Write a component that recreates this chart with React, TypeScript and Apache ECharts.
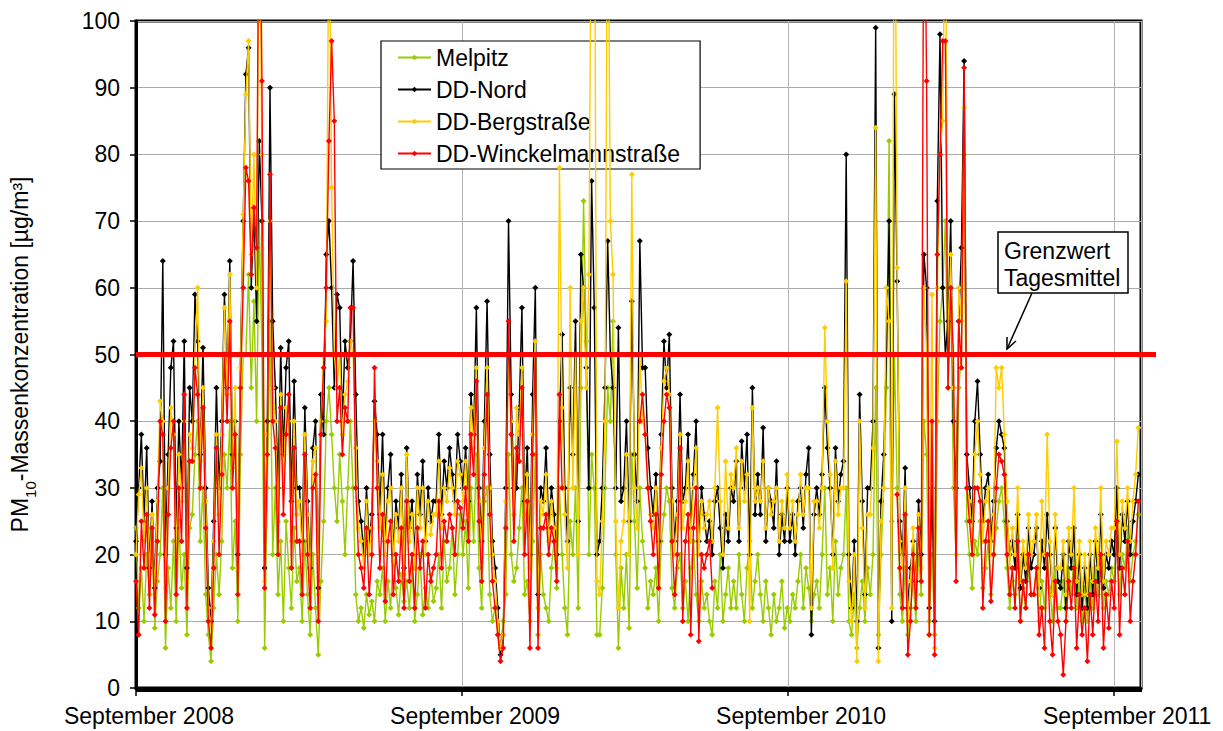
import React, { useEffect, useRef } from "react";
import * as echarts from "echarts";

const _ = null;
const STEP = 3; // days between samples, first sample 1 Sep 2008
const DAYS = 1125; // 1 Sep 2008 .. 30 Sep 2011
const SERIES_NAMES = ["Melpitz", "DD-Nord", "DD-Bergstraße", "DD-Winckelmannstraße"];
const COLORS = ["#99cc00", "#000000", "#ffcc00", "#ff0000"];
const X_LABELS: Record<number, string> = {
  0: "September 2008",
  365: "September 2009",
  730: "September 2010",
  1095: "September 2011",
};
const Y_MIN = 0;
const Y_MAX = 100;
const Y_STEP = 10;
const LIMIT = 50;

const melpitz = [
  24, 12, 18, 10, 20, 14, 22, 9, 16, 20,
  30, 6, 18, 12, 22, 10, 25, 15, 20, 8, 24,
  26, 35, 40, 22, 30, 14, 8, 4, 12, 20,
  14, 22, 35, 30, 40, 18, 25, 10, 35, 50,
  50, 62, 45, 58, 40, 70, 50, 6, 30, 55,
  20, 30, 14, 22, 10, 25, 18, 12, 24, 16,
  18, 10, 22, 14, 8, 20, 12, 5, 16, 25,
  40, 45, 38, 30, 25, 35, 28, 20, 30, 40,
  30, 14, 10, 12, 9, 14, 11, 13, 10, 16,
  14, 18, 10, 16, 12, 20, 15, 11, 17, 13,
  16, 12, 18, 10, 14, 20, 11, 15, 12, 17, 13,
  15, 20, 12, 22, 16, 18, 24, 14, 20, 26,
  20, 25, 15, 30, 22, 35, 18, 12, 28, 30,
  14, 10, 12, 8, 6, 10, 14, 35, 20, 16,
  18, 24, 30, 14, 16, 10, 22, 35, 8, 20,
  14, 12, 10, 18, 22, 15, 30, 20, 12, 8, 25,
  20, 30, 12, 45, 73, 52, 20, 35, 30, 8,
  8, 15, 30, 45, 40, 55, 20, 6, 18,
  12, 20, 9, 35, 25, 15, 30, 22, 18, 12, 16,
  14, 18, 10, 22, 26, 30, 28, 15, 12, 18,
  20, 12, 16, 10, 18, 22, 14, 10, 16, 12,
  14, 10, 8, 16, 12, 20, 10, 14, 18, 12,
  16, 12, 20, 14, 10, 18, 22, 12, 16, 20,
  14, 10, 16, 12, 8, 14, 10, 12, 16, 9, 12,
  10, 14, 12, 16, 20, 12, 18, 15, 10, 14,
  16, 12, 20, 30, 14, 18, 10, 22, 14, 18,
  20, 30, 10, 8, 14, 6, 12, 16, 10, 18,
  14, 20, 45, 8, 20, 30, 45, 82, 25, 50,
  30, 14, 10, 18, 8, 12, 16, 10, 20, 14, 40,
  35, 10, 20, 8, 40, 55, 60, 70, 45,
  60, 30, 20, 45, 50, 80, 25, 20, 15, 22,
  20, 25, 15, 18, 22, 14, 20, 24, 28, 30,
  25, 18, 12, 16, 14, 20, 10, 15, 12, 18, 14,
  14, 18, 10, 16, 12, 20, 15, 10, 18, 12,
  12, 16, 10, 18, 14, 20, 12, 16, 10, 15,
  10, 16, 12, 18, 14, 20, 12, 16, 14, 18,
  16, 22, 14, 20, 18, 24, 16, 20, 22, 26,
];

const ddNord = [
  22, 30, 38, 25, 36, 18, 28, 15, 30, 34,
  64, 20, 35, 48, 52, 24, 40, 30, 52, 18, 45,
  40, 59, 52, 35, 51, 30, 15, 10, 25, 45,
  30, 40, 59, 45, 64, 35, 40, 20, 50, 70,
  92, 96, 60, 72, 55, 82, 70, 18, 40, 90,
  55, 45, 30, 51, 35, 48, 52, 28, 46, 30,
  30, 22, 42, 28, 18, 36, 40, 15, 44, 38,
  65, 70, 60, 45, 59, 57, 40, 52, 48, 52,
  64, 44, 28, 25, 20, 30, 22, 26, 43, 38,
  26, 38, 22, 30, 35, 20, 28, 24, 32, 18,
  36, 24, 28, 20, 32, 26, 34, 22, 30, 25, 28,
  28, 38, 26, 34, 30, 36, 32, 28, 38, 34,
  30, 36, 28, 44, 38, 57, 30, 22, 40, 58,
  35, 22, 18, 12, 5, 8, 30, 70, 44, 30,
  30, 42, 57, 28, 36, 20, 44, 60, 14, 30,
  28, 36, 24, 30, 26, 20, 40, 53, 30, 22, 45,
  35, 55, 25, 65, 60, 48, 30, 76, 57, 20,
  22, 30, 45, 67, 50, 45, 30, 54, 28,
  30, 40, 25, 58, 35, 28, 67, 48, 48, 36, 30,
  26, 32, 22, 38, 52, 45, 53, 30, 22, 28,
  44, 28, 30, 38, 24, 32, 40, 22, 30, 26,
  22, 25, 20, 28, 30, 24, 18, 26, 22, 30,
  28, 34, 22, 37, 30, 38, 20, 45, 26, 32,
  26, 39, 22, 30, 28, 24, 34, 20, 26, 22, 30,
  22, 26, 20, 28, 30, 24, 32, 36, 8, 26,
  30, 26, 32, 45, 36, 30, 20, 36, 28, 32,
  34, 80, 20, 12, 22, 10, 44, 28, 14, 30,
  30, 40, 99, 6, 28, 35, 50, 70, 10, 89,
  61, 25, 20, 33, 12, 18, 22, 16, 28, 20, 65,
  60, 12, 30, 10, 73, 98, 60, 50, 55,
  70, 40, 30, 55, 66, 94, 35, 30, 25, 40,
  46, 35, 25, 30, 32, 22, 28, 36, 40, 38,
  36, 25, 20, 22, 18, 26, 15, 20, 16, 24, 18,
  20, 24, 15, 22, 18, 26, 20, 14, 24, 16,
  15, 20, 12, 22, 18, 24, 14, 20, 12, 18,
  12, 20, 14, 22, 16, 26, 15, 20, 18, 22,
  20, 30, 18, 26, 22, 28, 20, 25, 28, 32,
];

const ddBerg = [
  20, 29, 33, 22, 30, 17, 26, 14, 28, 43,
  40, 15, 30, 42, 38, 20, 35, 28, 40, 16, 38,
  36, 50, 60, 34, 45, 28, 12, 9, 22, 38,
  26, 38, 57, 44, 62, 33, 45, 18, 48, 71,
  89, 97, 65, 80, 60, 120, 80, 16, 38, 70,
  45, 40, 25, 44, 30, 42, 40, 22, 40, 26,
  28, 20, 38, 26, 16, 34, 36, 14, 40, 50,
  55, 120, 75, 50, 45, 50, 38, 44, 46, 52,
  50, 36, 24, 22, 18, 28, 20, 24, 40, 34,
  24, 32, 20, 28, 30, 19, 26, 22, 30, 17,
  35, 22, 26, 18, 30, 24, 30, 20, 28, 23, 26,
  26, 34, 24, 30, 28, 33, 30, 26, 34, 32,
  28, 34, 26, 42, 36, 48, 28, 20, 36, 48,
  30, 20, 16, 10, 6, 8, 28, 50, 40, 26,
  42, 38, 48, 26, 32, 18, 38, 52, 12, 28,
  26, 32, 22, 28, 24, 18, 78, 42, 26, 18, 60,
  30, 50, 20, 55, 60, 45, 62, 130, 140, 16,
  14, 25, 40, 130, 70, 62, 25, 12, 22,
  25, 35, 20, 77, 30, 24, 50, 40, 38, 30, 26,
  24, 30, 20, 36, 46, 48, 44, 28, 20, 26,
  38, 24, 28, 34, 22, 30, 36, 20, 28, 24,
  26, 28, 22, 30, 42, 28, 20, 34, 24, 32,
  30, 36, 24, 34, 28, 32, 10, 42, 28, 30,
  28, 34, 24, 30, 26, 28, 30, 22, 28, 24, 32,
  24, 28, 22, 26, 32, 26, 30, 30, 12, 28,
  28, 24, 30, 54, 40, 32, 18, 34, 26, 30,
  30, 61, 16, 10, 20, 4, 40, 24, 12, 26,
  26, 36, 84, 4, 25, 30, 60, 55, 12, 140,
  63, 22, 18, 30, 10, 16, 24, 14, 26, 18, 60,
  50, 8, 59, 6, 60, 80, 85, 120, 50,
  65, 45, 20, 60, 55, 87, 30, 28, 22, 35,
  40, 32, 22, 28, 30, 20, 26, 48, 45, 48,
  38, 28, 18, 24, 20, 30, 16, 22, 18, 26, 20,
  22, 26, 14, 28, 20, 38, 22, 14, 26, 18,
  18, 22, 14, 24, 20, 30, 16, 22, 14, 20,
  14, 22, 16, 24, 18, 30, 16, 22, 20, 24,
  24, 37, 20, 28, 24, 30, 22, 28, 32, 39,
];

const ddWinckel = [
  16, 8, 25, 18, 26, 12, 24, 11, 22, 40,
  38, 10, 26, 36, 40, 14, 30, 22, 44, 12, 34,
  34, 48, 44, 30, 42, 24, 10, 6, 18, 36,
  20, 32, 50, 40, 55, 30, 38, 14, 45, 60,
  78, 76, 62, 72, 66, 130, 91, 15, 35, 77,
  40, 36, 20, 42, 26, 38, 44, 18, 36, 22,
  22, 14, 35, 20, 12, 30, 32, 10, 38, 48,
  60, 82, 97, 85, 40, 45, 35, 42, 40, 57,
  57, 30, 20, 18, 15, 24, 14, 20, 48, 30,
  18, 26, 13, 22, 25, 14, 20, 16, 24, 12,
  28, 16, 20, 12, 24, 18, 22, 12, 20, 16, 18,
  20, 28, 18, 25, 22, 26, 24, 20, 28, 27,
  24, 30, 22, 38, 32, 46, 25, 16, 32, 44,
  26, 16, 12, 8, 4, 6, 24, 55, 38, 22,
  36, 34, 45, 20, 28, 6, 35, 50, 6, 24,
  24, 26, 20, 24, 22, 16, 44, 30, _, _, _,
  _, _, _, _, _, _, _, _, _, _,
  _, _, _, _, _, _, _, _, _,
  _, _, _, _, _, _, 40, 44, 38, 30, 25,
  20, 26, 15, 32, 40, 44, 42, 22, 14, 20,
  36, 10, 22, 26, 8, 24, 30, 7, 20, 18,
  20, 22, 15, _, _, _, _, _, _, _,
  _, _, _, _, _, _, _, _, _, _,
  _, _, _, _, _, _, _, _, _, _, _,
  _, _, _, _, _, _, _, _, _, _,
  _, _, _, _, _, _, _, _, _, _,
  _, _, _, _, _, _, _, _, _, _,
  _, _, _, _, _, _, _, _, _, _,
  29, 18, 12, 26, 5, 10, 20, 12, 24, 16, 130,
  91, 8, 40, 5, 65, 80, 97, 97, 45,
  60, 50, 16, 55, 48, 93, 30, 25, 20, 30,
  30, 28, 12, 22, 25, 13, 20, 30, 35, 34,
  32, 20, 14, 18, 12, 22, 10, 16, 12, 20, 14,
  14, 18, 8, 12, 6, 20, 10, 5, 16, 10,
  8, 2, 10, 16, 12, 18, 6, 14, 8, 12,
  4, 14, 8, 16, 10, 20, 6, 14, 9, 16,
  12, 25, 8, 18, 14, 22, 10, 16, 20, 28,
];

const SERIES_VALUES = [melpitz, ddNord, ddBerg, ddWinckel];

function toPairs(values: (number | null)[]) {
  return values.map((v, i) => [i * STEP, v]);
}

const FONT = "'Liberation Sans', Arial, sans-serif";

export default function App() {
  const ref = useRef<HTMLDivElement>(null);

  useEffect(() => {
    if (!ref.current) return;
    const chart = echarts.init(ref.current, null, { renderer: "svg" });
    const dayCats = Array.from({ length: DAYS + 1 }, (_v, i) => String(i));

    chart.setOption({
      animation: false,
      textStyle: { fontFamily: FONT },
      grid: {
        left: 135,
        right: 82,
        top: 21,
        bottom: 43,
        show: true,
        borderColor: "#000",
        borderWidth: 3,
        backgroundColor: "transparent",
      },
      legend: {
        orient: "vertical",
        left: 381,
        top: 41,
        itemWidth: 33,
        itemHeight: 7,
        itemGap: 9,
        padding: [5, 20, 4, 16],
        backgroundColor: "#fff",
        borderColor: "#000",
        borderWidth: 1.2,
        textStyle: { fontSize: 23, color: "#000", fontFamily: FONT },
        data: SERIES_NAMES,
        selectedMode: false,
      },
      xAxis: [
        {
          type: "value",
          position: "bottom",
          min: 0,
          max: DAYS,
          interval: 365,
          axisLine: { show: true, lineStyle: { color: "#000", width: 3 } },
          axisTick: { show: true, length: 8, lineStyle: { color: "#000", width: 1.5 } },
          axisLabel: {
            formatter: (v: number) => X_LABELS[v] ?? "",
            fontSize: 23,
            color: "#000",
            margin: 16,
            padding: [0, 0, 0, 26],
            showMaxLabel: false,
            showMinLabel: true,
            fontFamily: FONT,
          },
          splitLine: { show: true, lineStyle: { color: "#b4b4b4", width: 1 } },
        },
        {
          type: "category",
          position: "bottom",
          data: dayCats,
          boundaryGap: false,
          axisLine: { show: false },
          axisTick: { show: true, interval: 0, length: 4, lineStyle: { color: "#000", width: 1 } },
          axisLabel: { show: false },
          splitLine: { show: false },
        },
      ],
      yAxis: {
        type: "value",
        min: Y_MIN,
        max: Y_MAX,
        interval: Y_STEP,
        axisLine: { show: true, lineStyle: { color: "#000", width: 3 } },
        axisTick: { show: true, length: 6, lineStyle: { color: "#000", width: 1.5 } },
        axisLabel: { fontSize: 23, color: "#000", margin: 16, fontFamily: FONT },
        splitLine: { show: true, lineStyle: { color: "#ababab", width: 1 } },
        name: "{a|PM}{s|10}{a|-Massenkonzentration [µg/m³]}",
        nameLocation: "middle",
        nameGap: 98,
        nameTextStyle: {
          rich: {
            a: { fontSize: 23, color: "#000", fontFamily: FONT, lineHeight: 30, verticalAlign: "top" },
            s: { fontSize: 15, color: "#000", fontFamily: FONT, lineHeight: 16, verticalAlign: "bottom" },
          },
        },
      },
      series: SERIES_NAMES.map((name, i) => ({
        name,
        type: "line",
        xAxisIndex: 0,
        yAxisIndex: 0,
        data: toPairs(SERIES_VALUES[i]),
        symbol: "diamond",
        symbolSize: 6,
        showSymbol: true,
        showAllSymbol: true,
        connectNulls: false,
        clip: true,
        silent: true,
        z: 2 + i,
        lineStyle: { color: COLORS[i], width: 1.4 },
        itemStyle: { color: COLORS[i] },
        emphasis: { disabled: true },
      })),
    });

    const y50 = chart.convertToPixel({ yAxisIndex: 0 }, LIMIT) as number;
    const x0 = chart.convertToPixel({ xAxisIndex: 0 }, 0) as number;
    const x1 = chart.convertToPixel({ xAxisIndex: 0 }, DAYS) as number;

    chart.setOption({
      graphic: [
        {
          type: "line",
          z: 100,
          shape: { x1: x0, y1: y50, x2: x1 + 15, y2: y50 },
          style: { stroke: "#ff0000", lineWidth: 5 },
        },
        {
          type: "rect",
          z: 100,
          shape: { x: 998, y: 232, width: 130, height: 61 },
          style: { fill: "#fff", stroke: "#000", lineWidth: 1.5 },
        },
        {
          type: "text",
          z: 101,
          x: 1004,
          y: 237,
          style: {
            text: "Grenzwert\nTagesmittel",
            fontSize: 23,
            lineHeight: 27,
            fill: "#000",
            fontFamily: FONT,
          },
        },
        {
          type: "line",
          z: 100,
          shape: { x1: 1032, y1: 293, x2: 1007, y2: 349 },
          style: { stroke: "#000", lineWidth: 1.5 },
        },
        {
          type: "polyline",
          z: 100,
          shape: { points: [[1016, 341], [1007, 349], [1007, 337]] },
          style: { stroke: "#000", lineWidth: 1.5, fill: "none" },
        },
      ],
    });

    return () => chart.dispose();
  }, []);

  return (
    <div
      ref={ref}
      style={{ position: "absolute", left: 0, top: 0, width: 1223, height: 731, background: "#fff" }}
    />
  );
}
